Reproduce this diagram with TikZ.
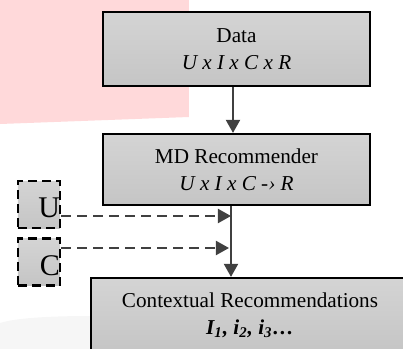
\documentclass[tikz,border=0pt]{standalone}
\usepackage{fontspec}
\setmainfont{Liberation Serif}
\usetikzlibrary{arrows.meta}
\definecolor{pinkbg}{RGB}{255,217,218}
\definecolor{faintbg}{RGB}{246,246,246}
\definecolor{arr}{RGB}{64,64,64}
\definecolor{boxtop}{RGB}{212,212,212}
\definecolor{boxbot}{RGB}{197,197,197}
\tikzset{
  mainbox/.style={draw=black, line width=1.1pt, top color=boxtop, bottom color=boxbot,
    align=center, font=\fontsize{10.6}{13.5}\selectfont, inner sep=0pt},
  dbox/.style={draw=black, line width=1.3pt, dash pattern=on 4.5pt off 2.5pt,
    top color=boxtop, bottom color=boxbot, minimum width=21pt, minimum height=23.5pt,
    text width=21pt, align=right, inner xsep=0pt, text depth=0pt,
    font=\fontsize{15}{15}\selectfont},
  arrowline/.style={draw=arr, line width=1pt, -{Triangle[width=7pt,length=6.5pt]}},
  dasharrow/.style={arrowline, dash pattern=on 5pt off 3pt}
}
\begin{document}
\begin{tikzpicture}[x=0.5pt,y=-0.5pt]
\useasboundingbox (0,0) rectangle (403,349);
% background decoration
\fill[pinkbg] (0,0) -- (189,0) -- (189,117) -- (0,124) -- cycle;
\fill[faintbg] (0,323) .. controls (15,318) and (50,316) .. (91,316) -- (91,349) -- (0,349) -- cycle;
% main boxes
\node[mainbox, minimum width=133.5pt, minimum height=37pt] (d) at (236.5,49)
  {Data\\\textit{U x I x C x R}};
\node[mainbox, minimum width=133.5pt, minimum height=35.5pt] (m) at (236.5,169.5)
  {MD Recommender\\\textit{U x I x C -› R}};
\node[mainbox, minimum width=159pt, minimum height=37pt] (r) at (250,315)
  {Contextual Recommendations\\\textbf{\textit{I\textsubscript{1}, i\textsubscript{2}, i\textsubscript{3}…}}};
% context boxes
\node[dbox, text height=13.4pt] (u) at (39,204.5) {U};
\node[dbox, text height=13.2pt] (c) at (39,262) {C};
% connectors
\draw[arrowline] ([xshift=-1.75pt]d.south) -- ([xshift=-1.75pt]m.north);
\coordinate (v) at ([xshift=-2.75pt]m.south);
\draw[arrowline] (v) -- (v |- r.north);
\draw[dasharrow] ([yshift=-5.75pt]u.east) -- ([yshift=-5.75pt]u.east -| v);
\draw[dasharrow] ([yshift=7pt]c.east) -- ([yshift=7pt,xshift=-1pt]c.east -| v);
\end{tikzpicture}
\end{document}
